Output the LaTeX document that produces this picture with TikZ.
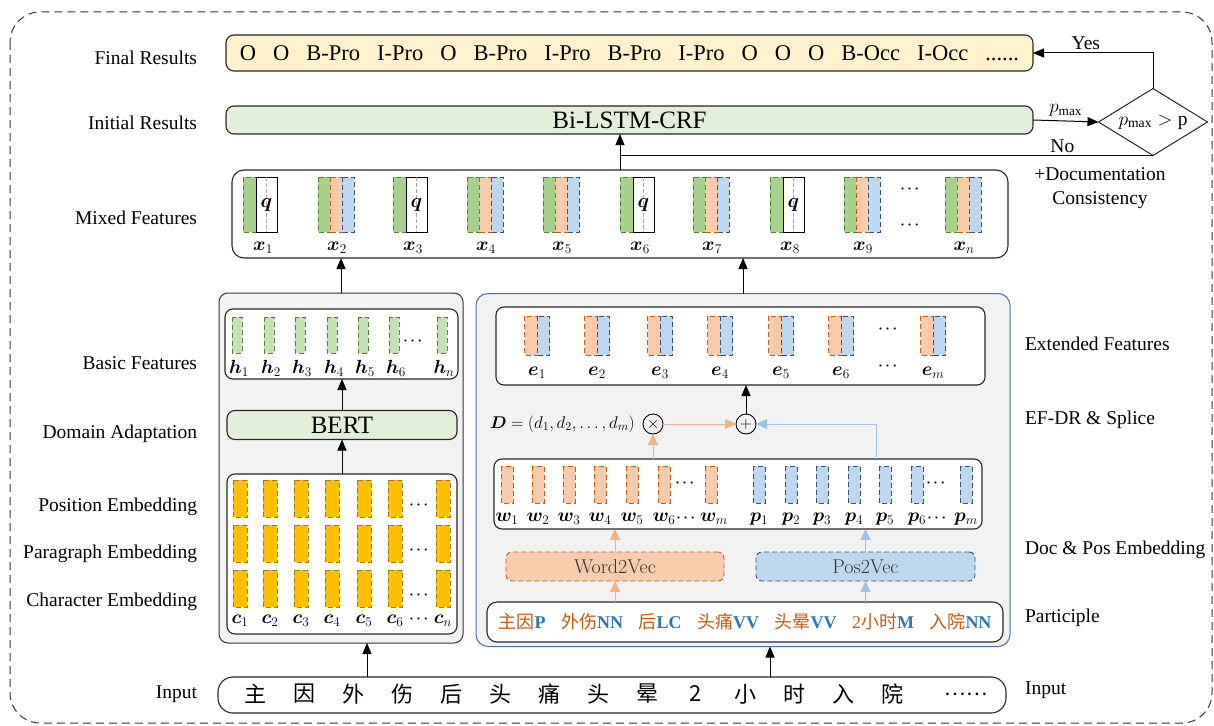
\RequirePackage{fix-cm}
\documentclass[tikz,border=0pt]{standalone}
\usepackage{amsmath,bm}
\usepackage{fontspec}
\setmainfont{Liberation Serif}
\newfontfamily\cjk{Noto Sans CJK SC}
\usetikzlibrary{arrows.meta,shapes.geometric,calc}

\definecolor{finfill}{HTML}{FFF2CC}
\definecolor{lstmfill}{HTML}{E2F0D9}
\definecolor{panelfill}{HTML}{F2F2F2}
\definecolor{panelblue}{HTML}{4A6FA5}
\definecolor{gfill}{HTML}{A9D18E}
\definecolor{gline}{HTML}{548235}
\definecolor{hfill}{HTML}{C5E0B4}
\definecolor{ofill}{HTML}{F8CBAD}
\definecolor{oline}{HTML}{C55A11}
\definecolor{bfill}{HTML}{BDD7EE}
\definecolor{bline}{HTML}{35507A}
\definecolor{yfill}{HTML}{FFC000}
\definecolor{yline}{HTML}{A67C00}
\definecolor{oarrow}{HTML}{F4B183}
\definecolor{barrow}{HTML}{9DC3E6}
\definecolor{otext}{HTML}{C55A11}
\definecolor{btext}{HTML}{2E75B6}

\newcommand\fsz[2]{\fontsize{#1}{#2}\selectfont}
\newcommand\gap{\hspace{17pt}}
\newcommand\pgap{\hspace{15.5pt}}
\newcommand\cw[1]{\textcolor{otext}{\cjk #1}}
\newcommand\tg[1]{\textcolor{btext}{\bfseries #1}}
\newcommand\bdots{$\bm{\cdots}$}

\tikzset{
  every node/.style={inner sep=0pt, outer sep=0pt},
  lab/.style={font=\fsz{19.5}{23.5}},
  dts/.style={font=\fsz{14}{16}},
  vec/.style={font=\fsz{19}{22}},
  box/.style={draw=black!85, line width=1.1pt, rounded corners=8pt},
  panel/.style={draw=black!80, fill=panelfill, line width=1pt, rounded corners=9pt},
  arr/.style={line width=1pt, -{Triangle[length=11pt,width=9pt]}},
  oarr/.style={draw=oarrow, line width=1pt, -{Triangle[length=11pt,width=10pt]}},
  barr/.style={draw=barrow, line width=1pt, -{Triangle[length=11pt,width=10pt]}},
  dsh/.style={dash pattern=on 5pt off 3pt, line width=0.9pt},
  gbar/.style={dsh, draw=gline, fill=gfill},
  hbar/.style={dsh, draw=gline, fill=hfill},
  obar/.style={dsh, draw=oline, fill=ofill},
  bbar/.style={dsh, draw=bline, fill=bfill},
  ybar/.style={dsh, draw=yline, fill=yfill},
}

\begin{document}
\begin{tikzpicture}[x=1pt,y=-1pt]
\useasboundingbox (0,0) rectangle (1214,725);

% outer frame
\draw[dash pattern=on 8pt off 5pt, line width=1pt, rounded corners=30pt, black!80]
  (10,12) rectangle (1212,723);

% row captions, left column
\foreach \y/\t [count=\k] in {58/Final Results, 123/Initial Results, 218/Mixed Features,
    363/Basic Features, 434/Domain Adaptation, 507/Position Embedding,
    554/Paragraph Embedding, 602/Character Embedding, 694/Input}
  \node[lab, anchor=east] (L\k) at (197,\y) {\t};

% row captions, right column
\foreach \y/\t [count=\k] in {344/Extended Features, 420/EF-DR \& Splice,
    550/Doc \& Pos Embedding, 618/Participle, 690/Input}
  \node[lab, anchor=west] (R\k) at (1025,\y) {\t};

% ---------- output layers ----------
\node[box, fill=finfill, minimum width=807pt, minimum height=36pt, font=\fsz{22.5}{26}] (fin) at (629.5,53)
  {O\gap O\gap B-Pro\gap I-Pro\gap O\gap B-Pro\gap I-Pro\gap B-Pro\gap I-Pro\gap O\gap O\gap O\gap B-Occ\gap I-Occ\gap ......};
\node[box, fill=lstmfill, minimum width=807pt, minimum height=28pt, font=\fsz{25}{28}] (lstm) at (629.5,120) {Bi-LSTM-CRF};

\node[diamond, draw=black!85, line width=1pt, minimum width=109pt, minimum height=67pt] (dia) at (1153,122) {};
\node[lab] (diatxt) at (1153,122) {$p_{\text{max}}>\text{p}$};

\node[lab, align=center] (doc) at (1100,188) {+Documentation\\Consistency};

% ---------- mixed features ----------
\node[box, fill=white, rounded corners=12pt, minimum width=776pt, minimum height=88pt] (mix) at (620,214) {};
\foreach \L/\i in {243/1,393/3,620/6,770/8}{
  \draw[gbar] (\L,177) rectangle ++(13,55);
  \draw[line width=1pt, fill=white] (\L+13,177) rectangle ++(21,55);
  \draw[black!35, dash pattern=on 4pt off 2pt, line width=0.6pt] (\L+23.5,177) -- ++(0,55);
  \node[font=\fsz{20}{23}] (q\i) at (\L+23.5,205) {$\bm{q}$};
  \node[vec] (x\i) at (\L+20,248) {$\bm{x}_{\i}$};
}
\foreach \L/\i in {318/2,467/4,543/5,693/7,844/9,945/n}{
  \draw[gbar] (\L,177) rectangle ++(12,55);
  \draw[obar] (\L+12,177) rectangle ++(12,55);
  \draw[bbar] (\L+24,177) rectangle ++(12,55);
  \node[vec] (x\i) at (\L+19,248) {$\bm{x}_{\i}$};
}
\node[dts] (mixdots1) at (911,189) {\bdots};
\node[dts] (mixdots2) at (911,225) {\bdots};

% ---------- left panel: BERT branch ----------
\node[panel, minimum width=244pt, minimum height=350pt] (lpanel) at (341,468) {};
\node[box, fill=white, minimum width=233pt, minimum height=70pt] (basic) at (341.5,344) {};
\foreach \c/\i in {237/1,269/2,300/3,332/4,363/5,394/6,442/n}{
  \draw[hbar] (\c-5,317) rectangle (\c+5,353);
  \node[vec] (h\i) at (\c+2,368) {$\bm{h}_{\i}$};
}
\node[dts] (hdots) at (414,341) {\bdots};

\node[box, fill=lstmfill, minimum width=230pt, minimum height=29pt, font=\fsz{25}{28}] (bert) at (342,425) {BERT};

\node[box, fill=white, minimum width=230pt, minimum height=160pt] (emb) at (342,554) {};
\foreach \c in {240,270,301,332,364,395,443}
  \foreach \y in {480,525,570}
    \draw[ybar] (\c-7,\y) rectangle (\c+7,\y+37);
\foreach \y [count=\k] in {505,550,595}
  \node[dts] (cdots\k) at (420,\y) {\bdots};
\foreach \c/\i in {240/1,270/2,301/3,332/4,364/5,395/6,443/n}
  \node[vec] (c\i) at (\c,621) {$\bm{c}_{\i}$};
\node[dts] (clabdots) at (420,619) {\bdots};

% ---------- right panel: extended features ----------
\node[panel, draw=panelblue, minimum width=534pt, minimum height=353pt, rounded corners=12pt] (rpanel) at (743,470) {};
\node[box, fill=white, minimum width=489pt, minimum height=78pt] (ext) at (740.5,346) {};
\foreach \c/\i in {537/1,597/2,660/3,720/4,781/5,841/6,933/m}{
  \draw[obar] (\c-12.5,316) rectangle (\c,355);
  \draw[bbar] (\c,316) rectangle (\c+12.5,355);
  \node[vec] (e\i) at (\c,373) {$\bm{e}_{\i}$};
}
\node[dts] (edots1) at (889,329) {\bdots};
\node[dts] (edots2) at (889,366) {\bdots};

\node[font=\fsz{17}{21}, anchor=west] (deq) at (490,424) {$\bm{D}=(d_1,d_2,\ldots,d_m)$};
\node[circle, draw=black, line width=0.9pt, minimum size=20pt, font=\fsz{16}{18}] (mul) at (653,424) {$\times$};
\node[circle, draw=black, line width=0.9pt, minimum size=20pt, font=\fsz{16}{18}] (add) at (746,424) {$+$};

\node[box, fill=white, minimum width=488pt, minimum height=70pt] (wp) at (738,494) {};
\foreach \c/\i in {507/1,538/2,569/3,600/4,632/5,664/6}{
  \draw[obar] (\c-6,466) rectangle (\c+6,503);
  \node[vec] (w\i) at (\c,519) {$\bm{w}_{\i}$};
}
\draw[obar] (705,466) rectangle (717,503);
\node[vec] (wm) at (714,519) {$\bm{w}_{m}$};
\node[dts] (wdots1) at (686,483) {\bdots};
\node[dts] (wdots2) at (687,518) {\bdots};
\foreach \c/\i in {759/1,791/2,822/3,854/4,885/5,917/6}{
  \draw[bbar] (\c-6,466) rectangle (\c+6,503);
  \node[vec] (p\i) at (\c,519) {$\bm{p}_{\i}$};
}
\draw[bbar] (960,466) rectangle (972,503);
\node[vec] (pm) at (966,519) {$\bm{p}_{m}$};
\node[dts] (pdots1) at (937,483) {\bdots};
\node[dts] (pdots2) at (938,518) {\bdots};

\node[draw=oline, fill=ofill, dsh, rounded corners=6pt, minimum width=218pt, minimum height=29pt,
      font=\fontfamily{lmr}\fsz{20}{23}, text=black!80] (w2v) at (615,566.5) {Word2Vec};
\node[draw=bline, fill=bfill, dsh, rounded corners=6pt, minimum width=219pt, minimum height=29pt,
      font=\fontfamily{lmr}\fsz{20}{23}, text=black!80] (p2v) at (865.5,566.5) {Pos2Vec};

\node[box, fill=white, minimum width=516pt, minimum height=40pt, rounded corners=10pt, font=\fsz{18}{22}] (part) at (745,622)
  {\cw{主因}\tg{P}\pgap\cw{外伤}\tg{NN}\pgap\cw{后}\tg{LC}\pgap\cw{头痛}\tg{VV}\pgap\cw{头晕}\tg{VV}\pgap\textcolor{otext}{2}\cw{小时}\tg{M}\pgap\cw{入院}\tg{NN}};

% ---------- input sentence ----------
\node[box, fill=white, minimum width=788pt, minimum height=36pt, rounded corners=15pt] (inp) at (612,695) {};
\foreach \ch [count=\k from 0] in {主,因,外,伤,后,头,痛,头,晕,2,小,时,入,院}
  \node[font=\cjk\fsz{22}{26}] (in\k) at (255+49*\k,694) {\ch};
\node[font=\cjk\fsz{20}{24}] (indots) at (966,694) {……};

% ---------- connectors ----------
\coordinate (inL) at (367,677);
\coordinate (inR) at (770,677);
\draw[arr] (inL) -- (inL |- lpanel.south);
\draw[arr] (inR) -- (inR |- rpanel.south);

\draw[arr] (emb.north) -- (bert.south);
\draw[arr] (bert.north) -- (bert.north |- basic.south);
\draw[arr] (lpanel.north) -- (lpanel.north |- mix.south);
\draw[arr] (rpanel.north) -- (rpanel.north |- mix.south);

\draw[oarr] (w2v.south |- part.north) -- (w2v.south);
\draw[barr] (p2v.south |- part.north) -- (p2v.south);
\draw[oarr] (w2v.north) -- (w2v.north |- wp.south);
\draw[barr] (p2v.north) -- (p2v.north |- wp.south);

\draw[oarr] (mul |- wp.north) -- (mul.south);
\draw[oarr] (mul.east) -- (add.west);
\coordinate (pturn) at (876,459);
\draw[barr] (pturn) |- (add.east);
\draw[arr] (add.north) -- (add.north |- ext.south);

\draw[arr] (mix.north) -- (mix.north |- lstm.south);
\draw[arr] (lstm.east) -- (dia.west) node[midway, above=5pt, font=\fsz{19}{22}] (pmax) {$p_{\text{max}}$};
\draw[arr] (dia.north) |- (fin.east) node[pos=0.78, above=3pt, lab] (yes) {Yes};
\draw[line width=1pt] (dia.south) -- (dia.south -| mix.north) node[pos=0.17, above=3pt, lab] (no) {No};

\end{tikzpicture}
\end{document}
